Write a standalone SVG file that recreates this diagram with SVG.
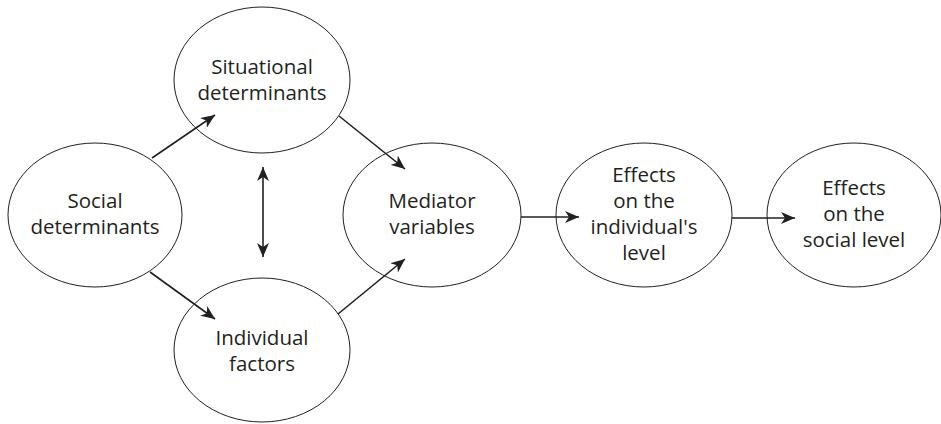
<svg xmlns="http://www.w3.org/2000/svg" width="941" height="424" viewBox="0 0 941 424">
<style>
.n ellipse{fill:#fff;stroke:#231f20;stroke-width:1}
.n text{font-family:"Open Sans","DejaVu Sans",sans-serif;font-size:20.5px;fill:#231f20;text-anchor:middle}
.c line{stroke:#231f20;stroke-width:1.6;fill:none}
</style>
<defs>
<marker id="ah" markerUnits="userSpaceOnUse" markerWidth="16" markerHeight="12" refX="14" refY="6" orient="auto-start-reverse" viewBox="0 0 16 12">
<path d="M0,0 L14,6 L0,12 L4,6 z" fill="#231f20"/>
</marker>
</defs>
<g id="situational" class="n">
<ellipse cx="262" cy="80" rx="88" ry="73"/>
<text x="262" y="74">Situational</text>
<text x="262" y="100">determinants</text>
</g>
<g id="social" class="n">
<ellipse cx="95" cy="215" rx="87" ry="72"/>
<text x="95" y="208">Social</text>
<text x="95" y="234">determinants</text>
</g>
<g id="mediator" class="n">
<ellipse cx="432" cy="215" rx="89" ry="72"/>
<text x="432" y="208">Mediator</text>
<text x="432" y="234">variables</text>
</g>
<g id="individual" class="n">
<ellipse cx="262" cy="350" rx="88" ry="72"/>
<text x="262" y="345">Individual</text>
<text x="262" y="371">factors</text>
</g>
<g id="effects-individual" class="n">
<ellipse cx="644" cy="215" rx="88" ry="72"/>
<text x="644" y="182">Effects</text>
<text x="644" y="208">on the</text>
<text x="644" y="234">individual's</text>
<text x="644" y="260">level</text>
</g>
<g id="effects-social" class="n">
<ellipse cx="854" cy="215" rx="87" ry="72"/>
<text x="854" y="195">Effects</text>
<text x="854" y="221">on the</text>
<text x="854" y="247">social level</text>
</g>
<g id="connectors" class="c">
<line x1="152" y1="158" x2="215" y2="115" marker-end="url(#ah)"/>
<line x1="339" y1="116" x2="405" y2="169" marker-end="url(#ah)"/>
<line x1="263" y1="167" x2="263" y2="257" marker-start="url(#ah)" marker-end="url(#ah)"/>
<line x1="150" y1="272" x2="215" y2="319" marker-end="url(#ah)"/>
<line x1="338" y1="314" x2="405" y2="259" marker-end="url(#ah)"/>
<line x1="521" y1="217" x2="579" y2="217" marker-end="url(#ah)"/>
<line x1="732" y1="218" x2="795" y2="218" marker-end="url(#ah)"/>
</g>
</svg>
